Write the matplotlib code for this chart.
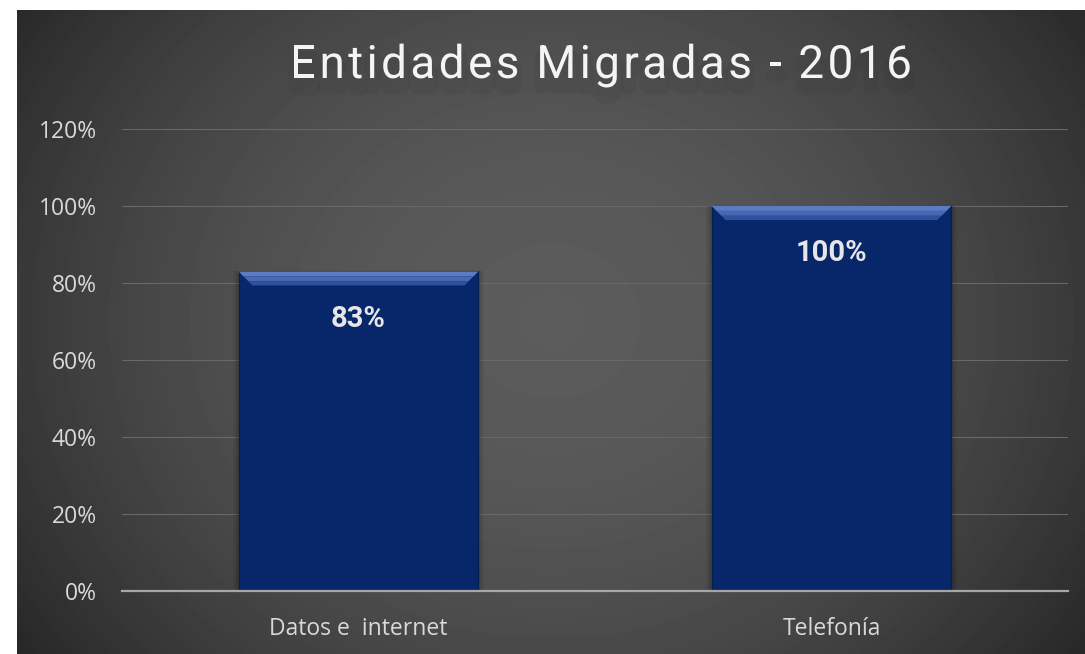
import matplotlib
matplotlib.use("Agg")
import matplotlib.pyplot as plt
import numpy as np
from matplotlib.patches import Polygon
import matplotlib.patheffects as pe

categories = ["Datos e  internet", "Telefonía"]
values = [0.83, 1.00]
labels = ["83%", "100%"]
yticks = [0, 0.2, 0.4, 0.6, 0.8, 1.0, 1.2]
ytick_labels = ["0%", "20%", "40%", "60%", "80%", "100%", "120%"]
title = "Entidades Migradas - 2016"

W, H = 1085, 654
fig = plt.figure(figsize=(W / 100, H / 100), dpi=100)
fig.patch.set_facecolor("white")

# dark panel with radial gradient
px0, py1 = 17, 10
bg = fig.add_axes([px0 / W, 0, 1 - px0 / W, 1 - py1 / H])
bg.set_axis_off()
ny, nx = 200, 300
yy, xx = np.mgrid[0:ny, 0:nx]
cx, cy = nx * 0.50, ny * 0.48
r = np.sqrt(((xx - cx) / (nx * 0.62)) ** 2 + ((yy - cy) / (ny * 0.90)) ** 2)
r = np.clip(r, 0, 1)
light, dark = 0.36, 0.15
img = dark + (light - dark) * (1 - r ** 1.9)
bg.imshow(img, cmap="gray", vmin=0, vmax=1, aspect="auto", extent=[0, 1, 0, 1],
          interpolation="bilinear")
bg.set_xlim(0, 1)
bg.set_ylim(0, 1)

# main axes
ax0, ax1 = 122, 1068
ay0, ay1 = 591, 129
ax = fig.add_axes([ax0 / W, 1 - ay0 / H, (ax1 - ax0) / W, (ay0 - ay1) / H])
ax.set_facecolor("none")
x = np.arange(len(categories))
bw = 0.507
bars = ax.bar(x, values, width=bw, color="#08266a", edgecolor="#061d52", linewidth=0.8,
              zorder=3,
              path_effects=[pe.SimplePatchShadow(offset=(0, -1), shadow_rgbFace="black", alpha=0.35),
                            pe.Normal()])
# soft glow around bars
for xi, v in zip(x, values):
    for k, a in [(6, 0.05), (4, 0.07), (2, 0.10)]:
        ax.bar(xi, v, width=bw + k * 2 / 473, color="black", alpha=a, zorder=2, linewidth=0)

# bevel on top of each bar
bh = 14 / 385
bx = 14 / 473
for xi, v in zip(x, values):
    left, right = xi - bw / 2, xi + bw / 2
    steps = [("#5a7cc4", 0.0, 0.35), ("#4869b2", 0.35, 0.7), ("#30529e", 0.7, 1.0)]
    for col, f0, f1 in steps:
        poly = Polygon([(left + bx * f0, v - bh * f0), (right - bx * f0, v - bh * f0),
                        (right - bx * f1, v - bh * f1), (left + bx * f1, v - bh * f1)],
                       closed=True, facecolor=col, edgecolor="none", zorder=4)
        ax.add_patch(poly)

for xi, v, lab in zip(x, values, labels):
    ax.annotate(lab, (xi, v), xytext=(0, -34), textcoords="offset points",
                ha="center", va="center", color="#e6e6e6", fontsize=21,
                fontweight="bold", family="Roboto", zorder=5)

ax.set_xlim(-0.5, 1.5)
ax.set_ylim(0, 1.2)
ax.set_yticks(yticks)
ax.set_yticklabels(ytick_labels)
ax.set_xticks(x)
ax.set_xticklabels(categories)
ax.tick_params(axis="both", length=0, colors="#d9d9d9", labelsize=16.5)
ax.tick_params(axis="y", pad=18)
ax.tick_params(axis="x", pad=19)
for t in ax.get_xticklabels() + ax.get_yticklabels():
    t.set_family("Open Sans")
ax.grid(axis="y", color="#686868", linewidth=0.8, zorder=0)
for s in ["top", "right", "left"]:
    ax.spines[s].set_visible(False)
ax.spines["bottom"].set_color("#a6a6a6")
ax.spines["bottom"].set_linewidth(1.6)
ax.spines["bottom"].set_zorder(6)

# title with letter spacing, drawn char by char
renderer = fig.canvas.get_renderer()
fs = 33
tprops = dict(fontsize=fs, family="Roboto", fontweight="normal", color="#f4f4f4",
              va="baseline", ha="left")
widths = []
for ch in title:
    if ch == " ":
        widths.append(fs * 100 / 72 * 0.22)
        continue
    tt = fig.text(0, 0, ch, **tprops)
    widths.append(tt.get_window_extent(renderer).width)
    tt.remove()
x_start, x_end = 290, 912
target = x_end - x_start
track = (target - sum(widths)) / (len(title) - 1)
xpos = x_start
ty = 1 - 78 / H
for ch, w in zip(title, widths):
    if ch != " ":
        tt = fig.text(xpos / W, ty, ch, **tprops)
        tt.set_path_effects([pe.SimpleLineShadow(offset=(0, -8), shadow_color="black",
                                                 alpha=0.04, linewidth=8), pe.Normal()])
    xpos += w + track

fig.savefig("out.png", dpi=100)
